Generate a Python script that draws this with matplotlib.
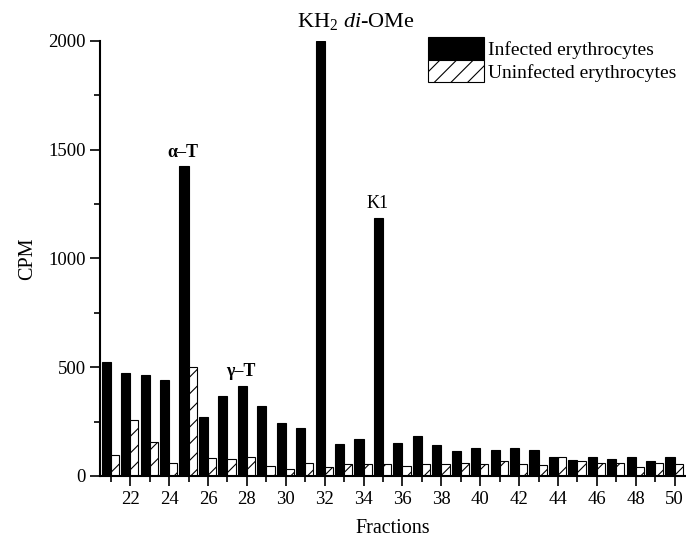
#!/usr/bin/env python
"""
Bar chart of CPM per fraction, infected vs uninfected erythrocytes.
"""

import matplotlib
matplotlib.use("Agg")
import matplotlib.pyplot as plt
import numpy as np

fractions = list(range(21, 51))
infected = [524, 474, 464, 441, 1425, 271, 366, 414, 322, 244,
            220, 2000, 147, 170, 1186, 152, 184, 143, 115, 130,
            119, 130, 121, 89, 74, 89, 77, 89, 69, 86]
uninfected = [97, 257, 156, 60, 500, 83, 80, 89, 46, 30,
              60, 42, 55, 55, 57, 46, 57, 57, 60, 57,
              70, 57, 48, 86, 70, 61, 58, 43, 58, 54]

plt.rcParams["font.family"] = ["Liberation Serif", "DejaVu Serif"]
plt.rcParams["mathtext.fontset"] = "custom"
plt.rcParams["mathtext.rm"] = "Liberation Serif"
plt.rcParams["mathtext.it"] = "Liberation Serif:italic"
plt.rcParams["hatch.linewidth"] = 0.8


def plot_cpm():
    fig = plt.figure(figsize=(6.86, 5.39), dpi=100)
    ax = fig.add_axes([0.146, 0.117, 0.853, 0.807])
    x = np.array(fractions)
    w1 = 0.47
    w2 = 0.42
    ax.bar(x - w1 / 2, infected, width=w1, color="black", edgecolor="black",
           linewidth=0.8, label="Infected erythrocytes")
    ax.bar(x + w2 / 2, uninfected, width=w2, color="white", edgecolor="black",
           linewidth=0.8, hatch="//", label="Uninfected erythrocytes")

    ax.set_xlim(20.45, 50.55)
    ax.set_ylim(0, 2000)
    ax.set_xticks(range(22, 51, 2))
    ax.set_xticks(range(21, 51, 2), minor=True)
    ax.set_yticks(range(0, 2001, 500))
    ax.set_yticks(range(250, 2000, 500), minor=True)
    ax.tick_params(axis="both", which="major", length=7, width=1.2, labelsize=13.5)
    ax.tick_params(axis="both", which="minor", length=4, width=1.2)
    for s in ["top", "right"]:
        ax.spines[s].set_visible(False)
    for s in ["left", "bottom"]:
        ax.spines[s].set_linewidth(1.5)

    ax.set_xlabel("Fractions", fontsize=14.5, labelpad=8)
    ax.set_ylabel("CPM", fontsize=14.5, labelpad=8)

    ax.text(33.6, 2040, "KH$_2$ $\\it{di}$-OMe", fontsize=16, ha="center", va="bottom")
    ax.text(24.7, 1450, "α–T", fontsize=13, fontweight="bold", ha="center", va="bottom")
    ax.text(27.7, 440, "γ–T", fontsize=13, fontweight="bold", ha="center", va="bottom")
    ax.text(34.7, 1215, "K1", fontsize=13, ha="center", va="bottom")

    ax.legend(loc="upper right", bbox_to_anchor=(1.005, 1.035), frameon=False,
              fontsize=14, handlelength=2.9, handleheight=1.4,
              handletextpad=0.2, labelspacing=0.0, borderaxespad=0.2)

    fig.savefig("out.png", dpi=100)


if __name__ == "__main__":
    plot_cpm()
